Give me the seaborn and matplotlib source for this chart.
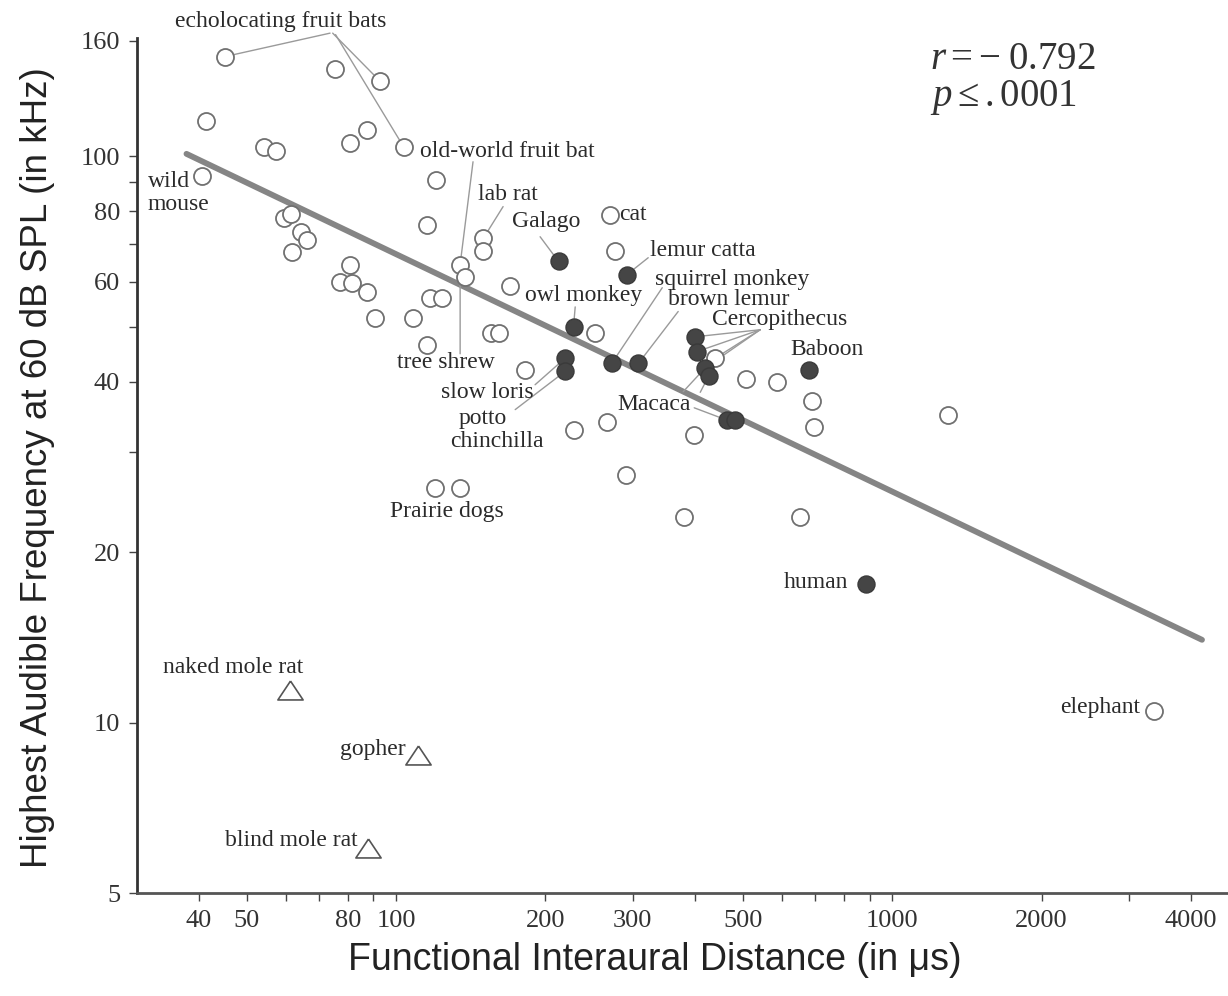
import numpy as np
import matplotlib
matplotlib.use("Agg")
import matplotlib.pyplot as plt
import seaborn as sns

# ---------------- data ----------------
# open circles: non-primate mammals
open_x = [45.2, 75.3, 92.6, 41.4, 54.2, 57.3, 87.3, 80.8, 103.5, 40.6, 120.4,
          59.5, 61.4, 64.3, 66.1, 61.7, 115.3, 150.0, 150.0, 80.8, 77.1, 81.4,
          87.3, 90.7, 134.6, 137.8, 117.1, 123.6, 108.4, 115.3, 169.8, 155.4,
          161.3, 182.0, 251.8, 270.0, 276.4, 227.8, 266.0, 290.9, 119.9, 134.6,
          380.8, 652.3, 439.7, 507.7, 585.6, 688.7, 694.0, 397.7, 1297.0, 3375.0]
open_y = [150.0, 142.7, 136.0, 115.6, 104.0, 102.0, 111.5, 105.6, 104.0, 92.2, 90.7,
          77.9, 79.2, 73.6, 71.2, 67.8, 75.7, 71.7, 67.9, 64.4, 60.1, 59.7,
          57.7, 51.8, 64.4, 61.2, 56.2, 56.2, 51.8, 46.5, 58.9, 48.7,
          48.7, 42.0, 48.7, 78.9, 67.9, 32.9, 34.0, 27.4, 26.0, 26.0,
          23.1, 23.1, 44.0, 40.4, 40.0, 36.9, 33.3, 32.2, 34.9, 10.47]
# filled circles: primates
prim_x = [212.5, 291.9, 227.8, 219.1, 219.1, 272.1, 308.0, 400.7, 403.9, 419.8,
          426.3, 678.3, 464.4, 482.6, 886.5]
prim_y = [65.2, 61.8, 50.0, 44.0, 41.7, 43.1, 43.1, 48.0, 45.2, 42.3,
          40.9, 42.0, 34.2, 34.2, 17.6]
# triangles: subterranean mammals
sub_x = [61.1, 110.8, 87.8]
sub_y = [11.42, 8.77, 6.01]
# regression line end points
reg_x = [37.8, 4210.0]
reg_y = [101.0, 14.0]

xtick_vals = [40, 50, 60, 70, 80, 90, 100, 200, 300, 400, 500, 600, 700, 800, 900,
              1000, 2000, 3000, 4000]
xtick_labels = ['40', '50', '', '', '80', '', '100', '200', '300', '', '500', '', '',
                '', '', '1000', '2000', '', '4000']
ytick_vals = [5, 10, 20, 30, 40, 50, 60, 70, 80, 90, 100, 160]
ytick_labels = ['5', '10', '20', '', '40', '', '60', '', '80', '', '100', '160']

# ---------------- style ----------------
sns.set_theme(style='white')
plt.rcParams['font.family'] = ['Liberation Serif', 'DejaVu Serif']
plt.rcParams['mathtext.fontset'] = 'custom'
plt.rcParams['mathtext.rm'] = 'Liberation Serif'
plt.rcParams['mathtext.it'] = 'Liberation Serif:italic'

fig = plt.figure(figsize=(12.28, 9.96), dpi=100)
ax = fig.add_axes([0.1113, 0.1034, 0.8887, 0.8588])
ax.set_xscale('log')
ax.set_yscale('log')

sns.lineplot(x=reg_x, y=reg_y, ax=ax, color='#858585', linewidth=4.2, zorder=2)

sns.scatterplot(x=open_x, y=open_y, ax=ax, marker='o', s=150, color='white',
                edgecolor='#707070', linewidth=1.3, zorder=4)
sns.scatterplot(x=prim_x, y=prim_y, ax=ax, marker='o', s=150, color='#454545',
                edgecolor='#3a3a3a', linewidth=1.0, zorder=5)
tri = [(0, 0.75), (-1, -0.75), (1, -0.75), (0, 0.75)]
sns.scatterplot(x=sub_x, y=sub_y, ax=ax, marker=tri, s=330, color='white',
                edgecolor='#555555', linewidth=1.2, zorder=4)

ax.set_xlim(30, 4750)
ax.set_ylim(5, 162)

ax.xaxis.set_major_locator(matplotlib.ticker.FixedLocator(xtick_vals))
ax.xaxis.set_minor_locator(matplotlib.ticker.NullLocator())
ax.set_xticklabels(xtick_labels)
ax.yaxis.set_major_locator(matplotlib.ticker.FixedLocator(ytick_vals))
ax.yaxis.set_minor_locator(matplotlib.ticker.NullLocator())
ax.set_yticklabels(ytick_labels)
ax.tick_params(axis='both', which='major', direction='out', length=6, width=1.0,
               color='#444444', labelsize=19, labelcolor='#333333', pad=6,
               bottom=True, left=True)

for s in ['top', 'right']:
    ax.spines[s].set_visible(False)
ax.spines['left'].set_color('#333333')
ax.spines['left'].set_linewidth(2.0)
ax.spines['bottom'].set_color('#555555')
ax.spines['bottom'].set_linewidth(2.0)

ax.set_xlabel('Functional Interaural Distance (in μs)', family='Liberation Sans',
              fontsize=27, color='#222222')
ax.set_ylabel('Highest Audible Frequency at 60 dB SPL (in kHz)', family='Liberation Sans',
              fontsize=26.5, color='#222222')
ax.xaxis.label.set_va('center')
ax.yaxis.label.set_va('center')
ax.xaxis.set_label_coords(0.475, -0.078)
ax.yaxis.set_label_coords(-0.0907, 0.497)

# ---------------- annotations ----------------
tcol = '#2a2a2a'
fs = 17
labels = [
    ('echolocating fruit bats', 58.6, 172.9, 'center'),
    ('old-world fruit bat', 111.8, 101.9, 'left'),
    ('wild\nmouse', 31.6, 86.2, 'left'),
    ('lab rat', 146.3, 85.6, 'left'),
    ('Galago', 171.3, 76.7, 'left'),
    ('cat', 281.6, 78.9, 'left'),
    ('lemur catta', 325.2, 68.1, 'left'),
    ('squirrel monkey', 332.8, 60.5, 'left'),
    ('brown lemur', 353.5, 55.8, 'left'),
    ('owl monkey', 182.0, 56.7, 'left'),
    ('Cercopithecus', 433.6, 51.5, 'left'),
    ('Baboon', 622.7, 45.6, 'left'),
    ('Macaca', 279.0, 36.4, 'left'),
    ('tree shrew', 100.5, 43.2, 'left'),
    ('slow loris', 123.2, 38.2, 'left'),
    ('potto', 133.4, 34.5, 'left'),
    ('chinchilla', 128.5, 31.3, 'left'),
    ('Prairie dogs', 97.3, 23.6, 'left'),
    ('human', 815.2, 17.7, 'right'),
    ('naked mole rat', 33.9, 12.49, 'left'),
    ('gopher', 104.3, 8.98, 'right'),
    ('blind mole rat', 83.8, 6.20, 'right'),
    ('elephant', 3162.0, 10.62, 'right'),
]
for txt, lx, ly, ha in labels:
    ax.text(lx, ly, txt, ha=ha, va='center', fontsize=fs, color=tcol,
            linespacing=1.15, zorder=6, clip_on=False)

leaders = [
    ((73.6, 165.0), (45.2, 150.0)),
    ((74.5, 165.0), (92.6, 136.0)),
    ((75.5, 164.0), (103.5, 104.0)),
    ((142.9, 97.8), (134.6, 64.4)),
    ((164.3, 81.5), (150.0, 71.7)),
    ((195.1, 72.1), (212.5, 65.2)),
    ((322.2, 66.2), (291.9, 61.8)),
    ((343.9, 58.6), (272.1, 43.1)),
    ((370.3, 53.2), (308.0, 43.1)),
    ((229.6, 54.2), (227.8, 50.0)),
    ((541.9, 49.4), (400.7, 48.0)),
    ((541.9, 49.4), (403.9, 45.2)),
    ((541.9, 49.4), (439.7, 44.0)),
    ((541.9, 49.4), (419.8, 42.3)),
    ((398.9, 35.96), (464.4, 34.2)),
    ((379.0, 38.4), (419.8, 42.3)),
    ((410.2, 38.3), (426.3, 40.9)),
    ((134.6, 44.8), (134.6, 61.2)),
    ((190.6, 39.5), (219.1, 44.0)),
    ((173.8, 35.7), (219.1, 41.7)),
]
for (sx, sy), (ex, ey) in leaders:
    ax.annotate('', xy=(ex, ey), xytext=(sx, sy),
                arrowprops=dict(arrowstyle='-', color='#9a9a9a', lw=1.0,
                                shrinkA=0, shrinkB=6), zorder=3)

ax.text(1193, 148.2, r'$r = -\;0.792$', ha='left', va='center', fontsize=28,
        color='#333333')
ax.text(1193, 127.0, r'$p \leq .0001$', ha='left', va='center', fontsize=28,
        color='#333333')

fig.savefig('out.png', dpi=100, facecolor='white')
